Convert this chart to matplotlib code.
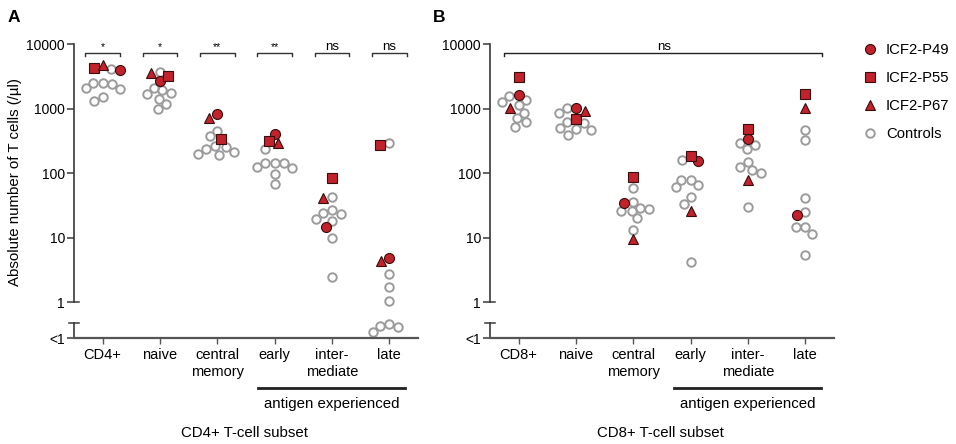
import numpy as np
import matplotlib
matplotlib.use("Agg")
import matplotlib.pyplot as plt
import matplotlib.transforms as mtransforms
from matplotlib.lines import Line2D

plt.rcParams['font.family'] = ['Liberation Sans', 'DejaVu Sans']

# figure size in pixels (dpi 100)
W, H = 956, 444

CD4_SUBSETS = ["CD4+", "naive", "central\nmemory", "early", "inter-\nmediate", "late"]
CD8_SUBSETS = ["CD8+", "naive", "central\nmemory", "early", "inter-\nmediate", "late"]

# patients, one value per subset (cells/µl)
CD4_P49 = [3950, 2700, 819, 410, 14.5, 4.8]
CD4_P55 = [4250, 3230, 334, 315, 85, 279]
CD4_P67 = [4730, 3640, 727, 297, 41, 4.3]
CD4_CONTROLS = [
    [4200, 2550, 2450, 2550, 2050, 2100, 1320, 1520],
    [3780, 2130, 1780, 1950, 1675, 1435, 1000, 1170],
    [376, 450, 263, 255, 210, 195, 202, 240],
    [234, 142, 126, 121, 142, 142, 99, 69],
    [43, 26.6, 23.6, 19.5, 18.4, 24.2, 9.9, 2.5],
    [290, 2.7, 1.75, 1.06, 0.43, 0.35, 0.42, 0.46],
]
CD4_SIG = ["*", "*", "**", "**", "ns", "ns"]

CD8_P49 = [1615, 1040, 34.7, 154, 343, 22.8]
CD8_P55 = [3160, 684, 88, 184, 478, 1675]
CD8_P67 = [1040, 920, 9.5, 26.3, 78, 1040]
CD8_CONTROLS = [
    [1577, 1290, 1350, 1130, 870, 717, 630, 520],
    [1015, 848, 593, 478, 398, 466, 508, 621],
    [59, 36, 28, 25.6, 29, 20.2, 13.3, 26],
    [159, 80, 80, 61, 65, 43, 33.8, 4.2],
    [297, 279, 234, 148, 126, 101, 111, 30],
    [466, 326, 41.4, 25, 14.5, 14.6, 11.5, 5.4],
]
CD8_SIG = "ns"

Y_TICKS = [1, 10, 100, 1000, 10000]
Y_TICK_LABELS = ["1", "10", "100", "1000", "10000"]

RED = "#C1222B"
RED_EDGE = "#3a0c0c"
GREY = "#9b9b9b"
AXIS = "#3a3a3a"

# log10 layout of the broken axis
Y_BOTTOM = -0.555   # "<1" level
Y_BREAK = -0.317
Y_TOP = 4.222
PX_PER_DECADE = 308 / (Y_TOP - Y_BOTTOM)
PX_PER_CAT = 344 / 6.0


def swarm(ypx, diam=9.2):
    # simple beeswarm: nearest free spot to the centre line
    order = np.argsort(-ypx)
    offs = np.zeros(len(ypx))
    placed = []
    for i in order:
        bad = []
        for j in placed:
            dy = abs(ypx[i] - ypx[j])
            if dy < diam:
                dx = np.sqrt(diam ** 2 - dy ** 2)
                bad.append((offs[j] - dx, offs[j] + dx))
        cands = [0.0] + [b for iv in bad for b in iv]
        cands.sort(key=abs)
        for c in cands:
            if all(not (lo + 1e-6 < c < hi - 1e-6) for lo, hi in bad):
                offs[i] = c
                break
        placed.append(i)
    return offs


def setup_axes(ax, labels):
    ax.set_xlim(-0.5, 5.5)
    ax.set_ylim(Y_BOTTOM, Y_TOP)
    for s in ["top", "right", "left"]:
        ax.spines[s].set_visible(False)
    ax.spines["bottom"].set_color("#555555")
    ax.spines["bottom"].set_linewidth(1.6)
    ax.set_xticks(range(6))
    ax.set_xticklabels(labels, fontsize=10.5, linespacing=1.3, va="top")
    ax.tick_params(axis="x", length=4, width=1, color="#555555", pad=3)
    ax.set_yticks([Y_BOTTOM] + list(np.log10(Y_TICKS)))
    ax.set_yticklabels(["<1"] + Y_TICK_LABELS, fontsize=10)
    ax.tick_params(axis="y", length=5, width=1.1, color=AXIS, pad=1.5)

    trans = mtransforms.blended_transform_factory(ax.transAxes, ax.transData)
    cap = 5.0 / 344
    ax.plot([0, 0], [0, 4], transform=trans, color=AXIS, lw=1.2, clip_on=False)
    ax.plot([0, 0], [Y_BOTTOM, Y_BREAK], transform=trans, color=AXIS, lw=1.2, clip_on=False)
    ax.plot([0, cap], [0, 0], transform=trans, color=AXIS, lw=1.1, clip_on=False)
    ax.plot([-cap, cap], [Y_BREAK, Y_BREAK], transform=trans, color=AXIS, lw=1.1, clip_on=False)

    # antigen experienced group line and texts
    t2 = mtransforms.blended_transform_factory(ax.transData, ax.transAxes)
    ax.plot([2.71, 5.28], [-0.162, -0.162], transform=t2, color="#222222", lw=2, clip_on=False)
    ax.text(4.0, -0.214, "antigen experienced", transform=t2, ha="center", va="center", fontsize=10.8)


def draw_points(ax, p49, p55, p67, controls):
    for i in range(6):
        vals = list(controls[i]) + [p49[i], p55[i], p67[i]]
        ylog = np.log10(vals)
        offs = swarm(ylog * PX_PER_DECADE) / PX_PER_CAT
        n = len(controls[i])
        ax.plot(i + offs[:n], ylog[:n], ls="none", marker="o", ms=6.1,
                mfc="none", mec=GREY, mew=1.4, clip_on=False)
        ax.plot(i + offs[n], ylog[n], ls="none", marker="o", ms=7.2,
                mfc=RED, mec=RED_EDGE, mew=0.8, clip_on=False)
        ax.plot(i + offs[n + 1], ylog[n + 1], ls="none", marker="s", ms=6.8,
                mfc=RED, mec=RED_EDGE, mew=0.8, clip_on=False)
        ax.plot(i + offs[n + 2], ylog[n + 2], ls="none", marker="^", ms=7.4,
                mfc=RED, mec=RED_EDGE, mew=0.8, clip_on=False)


fig = plt.figure(figsize=(W / 100, H / 100), dpi=100)
ax_a = fig.add_axes([74 / W, (H - 338) / H, 344 / W, 308 / H])
ax_b = fig.add_axes([490 / W, (H - 338) / H, 344 / W, 308 / H])

setup_axes(ax_a, CD4_SUBSETS)
setup_axes(ax_b, CD8_SUBSETS)
draw_points(ax_a, CD4_P49, CD4_P55, CD4_P67, CD4_CONTROLS)
draw_points(ax_b, CD8_P49, CD8_P55, CD8_P67, CD8_CONTROLS)

# significance brackets
YB = 3.861
for i, s in enumerate(CD4_SIG):
    ax_a.plot([i - 0.305, i - 0.305, i + 0.305, i + 0.305], [YB - 0.05, YB, YB, YB - 0.05],
              color="#333333", lw=1, clip_on=False)
    ax_a.text(i, YB + 0.045, s, ha="center", va="baseline",
              fontsize=7.5 if "*" in s else 9.5)
ax_b.plot([-0.255, -0.255, 5.29, 5.29], [YB - 0.05, YB, YB, YB - 0.05],
          color="#222222", lw=1, clip_on=False)
ax_b.text(2.53, YB + 0.045, CD8_SIG, ha="center", va="baseline", fontsize=9.5)

ax_a.text(0.495, -0.308, "CD4+ T-cell subset", transform=ax_a.transAxes,
          ha="center", va="center", fontsize=10.8)
ax_b.text(0.495, -0.308, "CD8+ T-cell subset", transform=ax_b.transAxes,
          ha="center", va="center", fontsize=10.8)

fig.text(15 / W, 1 - 182 / H, "Absolute number of T cells (/µl)", rotation=90,
         ha="center", va="center", fontsize=10.8)
fig.text(14 / W, 1 - 17 / H, "A", ha="center", va="center", fontsize=12.5, fontweight="bold")
fig.text(439 / W, 1 - 17 / H, "B", ha="center", va="center", fontsize=12.5, fontweight="bold")

handles = [
    Line2D([], [], ls="none", marker="o", ms=7.2, mfc=RED, mec=RED_EDGE, mew=0.8),
    Line2D([], [], ls="none", marker="s", ms=6.8, mfc=RED, mec=RED_EDGE, mew=0.8),
    Line2D([], [], ls="none", marker="^", ms=7.4, mfc=RED, mec=RED_EDGE, mew=0.8),
    Line2D([], [], ls="none", marker="o", ms=6.1, mfc="none", mec=GREY, mew=1.4),
]
fig.legend(handles, ["ICF2-P49", "ICF2-P55", "ICF2-P67", "Controls"],
           loc="upper left", bbox_to_anchor=(862.6 / W, 1 - 43 / H), frameon=False,
           borderpad=0, borderaxespad=0, handlelength=1.0, handletextpad=0.58,
           labelspacing=0.94, fontsize=10.7)

fig.savefig("out.png", dpi=100)
